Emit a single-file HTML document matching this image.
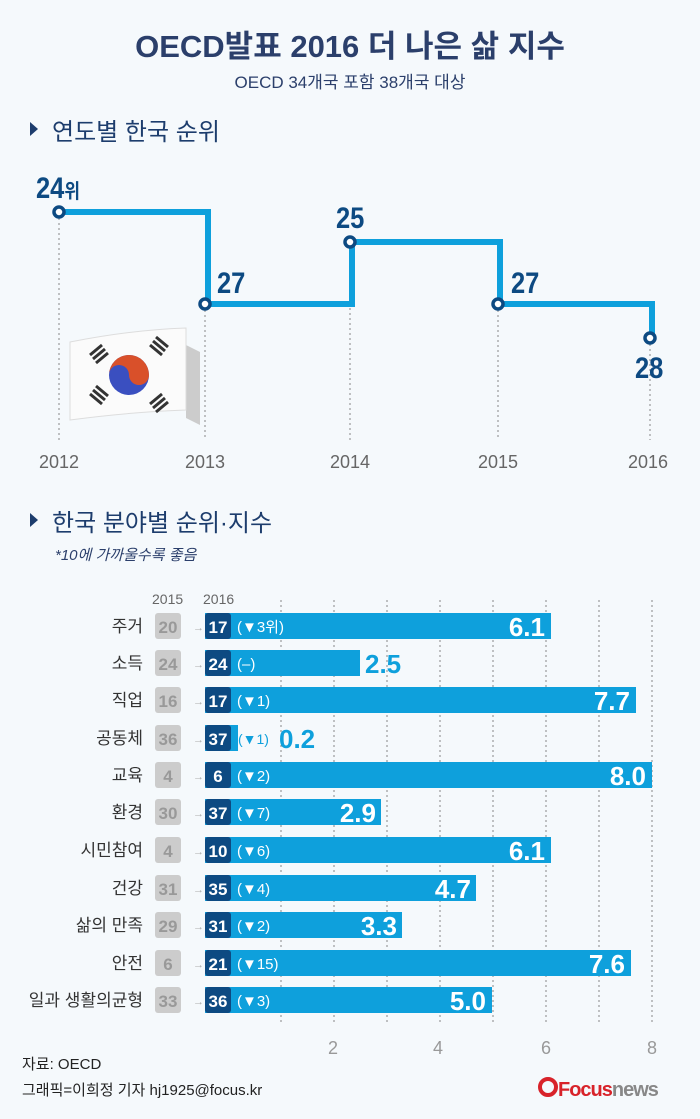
<!DOCTYPE html>
<html><head><meta charset="utf-8"><style>
body{margin:0;background:#f5f9fc;}
svg text{font-family:"Liberation Sans","Noto Sans CJK KR",sans-serif;}
</style></head><body>
<svg width="700" height="1114" viewBox="0 0 700 1114" xmlns="http://www.w3.org/2000/svg">
<rect width="700" height="1114" fill="#f5f9fc"/>
<text x="350" y="57" text-anchor="middle" font-size="31" fill="#2b3f6b" font-weight="bold">OECD발표 2016 더 나은 삶 지수</text>
<text x="350" y="88" text-anchor="middle" font-size="17" fill="#2b3f6b">OECD 34개국 포함 38개국 대상</text>
<polygon points="30,122 38,129 30,136" fill="#1d3d6d"/>
<text x="52" y="140" font-size="24" fill="#1d3d6d">연도별 한국 순위</text>
<g stroke="#888" stroke-width="1" stroke-dasharray="2,3">
<line x1="59" y1="218" x2="59" y2="440"/><line x1="205" y1="310" x2="205" y2="440"/>
<line x1="350" y1="248" x2="350" y2="440"/><line x1="498" y1="310" x2="498" y2="440"/>
<line x1="650" y1="344" x2="650" y2="440"/>
</g>
<polyline points="59,212 208,212 208,304 352,304 352,242 500,242 500,304 652,304 652,338" fill="none" stroke="#0ea0dc" stroke-width="6"/>
<g fill="#fff" stroke="#0d4a82" stroke-width="3.5">
<circle cx="59" cy="212" r="5"/><circle cx="205" cy="304" r="5"/><circle cx="350" cy="242" r="5"/><circle cx="498" cy="304" r="5"/><circle cx="650" cy="338" r="5"/>
</g>
<g fill="#0d4a82" font-weight="bold">
<text x="36" y="198" font-size="30" transform="translate(36 0) scale(0.85 1) translate(-36 0)">24<tspan font-size="20">위</tspan></text>
<text x="217" y="293" font-size="30" transform="translate(217 0) scale(0.85 1) translate(-217 0)">27</text>
<text x="336" y="228" font-size="30" transform="translate(336 0) scale(0.85 1) translate(-336 0)">25</text>
<text x="511" y="293" font-size="30" transform="translate(511 0) scale(0.85 1) translate(-511 0)">27</text>
<text x="635" y="378" font-size="30" transform="translate(635 0) scale(0.85 1) translate(-635 0)">28</text>
</g>
<g fill="#666" font-size="18" text-anchor="middle">
<text x="59" y="468">2012</text><text x="205" y="468">2013</text><text x="350" y="468">2014</text><text x="498" y="468">2015</text><text x="648" y="468">2016</text>
</g>
<path d="M186,345 L200,352 L200,425 L186,418 Z" fill="#ccc"/>
<path d="M70,342 Q130,330 186,328 L186,410 Q130,412 70,420 Z" fill="#fbfbfb" stroke="#ddd"/>
<circle cx="129" cy="375" r="20" fill="#3a4fc0"/>
<path d="M109,375 A20,20 0 0 1 149,375 A10,10 0 0 1 129,375 A10,10 0 0 0 109,375 Z" fill="#d9502a"/>
<g stroke="#333" stroke-width="3"><line x1="90" y1="355" x2="102" y2="345"/><line x1="93" y1="359" x2="105" y2="349"/><line x1="96" y1="363" x2="108" y2="353"/>
<line x1="150" y1="345" x2="162" y2="355"/><line x1="153" y1="341" x2="165" y2="351"/><line x1="156" y1="337" x2="168" y2="347"/>
<line x1="90" y1="394" x2="102" y2="404"/><line x1="93" y1="390" x2="105" y2="400"/><line x1="96" y1="386" x2="108" y2="396"/>
<line x1="150" y1="404" x2="162" y2="394"/><line x1="153" y1="408" x2="165" y2="398"/><line x1="156" y1="412" x2="168" y2="402"/></g>
<polygon points="30,513 38,520 30,527" fill="#1d3d6d"/>
<text x="52" y="531" font-size="24" fill="#1d3d6d">한국 분야별 순위·지수</text>
<text x="55" y="560" font-size="15" fill="#2b3f6b" font-style="italic">*10에 가까울수록 좋음</text>
<text x="152" y="604" font-size="14" fill="#666">2015</text><text x="203" y="604" font-size="14" fill="#666">2016</text>
<g stroke="#888" stroke-dasharray="2,3">
<line x1="281" y1="600" x2="281" y2="1025"/><line x1="334" y1="600" x2="334" y2="1025"/><line x1="387" y1="600" x2="387" y2="1025"/><line x1="440" y1="600" x2="440" y2="1025"/><line x1="493" y1="600" x2="493" y2="1025"/><line x1="546" y1="600" x2="546" y2="1025"/><line x1="599" y1="600" x2="599" y2="1025"/><line x1="652" y1="600" x2="652" y2="1025"/>
</g>
<g fill="#999" font-size="18" text-anchor="middle"><text x="333" y="1054">2</text><text x="438" y="1054">4</text><text x="546" y="1054">6</text><text x="652" y="1054">8</text></g>
<g font-size="17">
<g transform="translate(0,626)"><rect x="205" y="-13" width="346" height="26" fill="#0ea0dc"/><text x="143" y="6" text-anchor="end" fill="#333">주거</text><rect x="155" y="-13" width="26" height="26" rx="3" fill="#ccc"/><text x="168" y="7" text-anchor="middle" fill="#999" font-weight="bold">20</text><text x="193" y="5" font-size="11" fill="#aaa">→</text><rect x="205" y="-13" width="26" height="26" rx="3" fill="#0d4a82"/><text x="218" y="7" text-anchor="middle" fill="#fff" font-weight="bold">17</text><text x="237" y="6" font-size="15" fill="#fff">(▼3위)</text><text x="545" y="10" text-anchor="end" fill="#fff" font-size="26" font-weight="bold">6.1</text></g>
<g transform="translate(0,663)"><rect x="205" y="-13" width="155" height="26" fill="#0ea0dc"/><text x="143" y="6" text-anchor="end" fill="#333">소득</text><rect x="155" y="-13" width="26" height="26" rx="3" fill="#ccc"/><text x="168" y="7" text-anchor="middle" fill="#999" font-weight="bold">24</text><text x="193" y="5" font-size="11" fill="#aaa">→</text><rect x="205" y="-13" width="26" height="26" rx="3" fill="#0d4a82"/><text x="218" y="7" text-anchor="middle" fill="#fff" font-weight="bold">24</text><text x="237" y="6" font-size="15" fill="#fff">(–)</text><text x="365" y="10" fill="#0ea0dc" font-size="26" font-weight="bold">2.5</text></g>
<g transform="translate(0,700)"><rect x="205" y="-13" width="431" height="26" fill="#0ea0dc"/><text x="143" y="6" text-anchor="end" fill="#333">직업</text><rect x="155" y="-13" width="26" height="26" rx="3" fill="#ccc"/><text x="168" y="7" text-anchor="middle" fill="#999" font-weight="bold">16</text><text x="193" y="5" font-size="11" fill="#aaa">→</text><rect x="205" y="-13" width="26" height="26" rx="3" fill="#0d4a82"/><text x="218" y="7" text-anchor="middle" fill="#fff" font-weight="bold">17</text><text x="237" y="6" font-size="15" fill="#fff">(▼1)</text><text x="630" y="10" text-anchor="end" fill="#fff" font-size="26" font-weight="bold">7.7</text></g>
<g transform="translate(0,738)"><rect x="205" y="-13" width="33" height="26" fill="#0ea0dc"/><text x="143" y="6" text-anchor="end" fill="#333">공동체</text><rect x="155" y="-13" width="26" height="26" rx="3" fill="#ccc"/><text x="168" y="7" text-anchor="middle" fill="#999" font-weight="bold">36</text><text x="193" y="5" font-size="11" fill="#aaa">→</text><rect x="205" y="-13" width="26" height="26" rx="3" fill="#0d4a82"/><text x="218" y="7" text-anchor="middle" fill="#fff" font-weight="bold">37</text><text x="238" y="6" font-size="14" fill="#0ea0dc">(▼1)</text><text x="279" y="10" fill="#0ea0dc" font-size="26" font-weight="bold">0.2</text></g>
<g transform="translate(0,775)"><rect x="205" y="-13" width="447" height="26" fill="#0ea0dc"/><text x="143" y="6" text-anchor="end" fill="#333">교육</text><rect x="155" y="-13" width="26" height="26" rx="3" fill="#ccc"/><text x="168" y="7" text-anchor="middle" fill="#999" font-weight="bold">4</text><text x="193" y="5" font-size="11" fill="#aaa">→</text><rect x="205" y="-13" width="26" height="26" rx="3" fill="#0d4a82"/><text x="218" y="7" text-anchor="middle" fill="#fff" font-weight="bold">6</text><text x="237" y="6" font-size="15" fill="#fff">(▼2)</text><text x="646" y="10" text-anchor="end" fill="#fff" font-size="26" font-weight="bold">8.0</text></g>
<g transform="translate(0,812)"><rect x="205" y="-13" width="176" height="26" fill="#0ea0dc"/><text x="143" y="6" text-anchor="end" fill="#333">환경</text><rect x="155" y="-13" width="26" height="26" rx="3" fill="#ccc"/><text x="168" y="7" text-anchor="middle" fill="#999" font-weight="bold">30</text><text x="193" y="5" font-size="11" fill="#aaa">→</text><rect x="205" y="-13" width="26" height="26" rx="3" fill="#0d4a82"/><text x="218" y="7" text-anchor="middle" fill="#fff" font-weight="bold">37</text><text x="237" y="6" font-size="15" fill="#fff">(▼7)</text><text x="376" y="10" text-anchor="end" fill="#fff" font-size="26" font-weight="bold">2.9</text></g>
<g transform="translate(0,850)"><rect x="205" y="-13" width="346" height="26" fill="#0ea0dc"/><text x="143" y="6" text-anchor="end" fill="#333">시민참여</text><rect x="155" y="-13" width="26" height="26" rx="3" fill="#ccc"/><text x="168" y="7" text-anchor="middle" fill="#999" font-weight="bold">4</text><text x="193" y="5" font-size="11" fill="#aaa">→</text><rect x="205" y="-13" width="26" height="26" rx="3" fill="#0d4a82"/><text x="218" y="7" text-anchor="middle" fill="#fff" font-weight="bold">10</text><text x="237" y="6" font-size="15" fill="#fff">(▼6)</text><text x="545" y="10" text-anchor="end" fill="#fff" font-size="26" font-weight="bold">6.1</text></g>
<g transform="translate(0,888)"><rect x="205" y="-13" width="271" height="26" fill="#0ea0dc"/><text x="143" y="6" text-anchor="end" fill="#333">건강</text><rect x="155" y="-13" width="26" height="26" rx="3" fill="#ccc"/><text x="168" y="7" text-anchor="middle" fill="#999" font-weight="bold">31</text><text x="193" y="5" font-size="11" fill="#aaa">→</text><rect x="205" y="-13" width="26" height="26" rx="3" fill="#0d4a82"/><text x="218" y="7" text-anchor="middle" fill="#fff" font-weight="bold">35</text><text x="237" y="6" font-size="15" fill="#fff">(▼4)</text><text x="471" y="10" text-anchor="end" fill="#fff" font-size="26" font-weight="bold">4.7</text></g>
<g transform="translate(0,925)"><rect x="205" y="-13" width="197" height="26" fill="#0ea0dc"/><text x="143" y="6" text-anchor="end" fill="#333">삶의 만족</text><rect x="155" y="-13" width="26" height="26" rx="3" fill="#ccc"/><text x="168" y="7" text-anchor="middle" fill="#999" font-weight="bold">29</text><text x="193" y="5" font-size="11" fill="#aaa">→</text><rect x="205" y="-13" width="26" height="26" rx="3" fill="#0d4a82"/><text x="218" y="7" text-anchor="middle" fill="#fff" font-weight="bold">31</text><text x="237" y="6" font-size="15" fill="#fff">(▼2)</text><text x="397" y="10" text-anchor="end" fill="#fff" font-size="26" font-weight="bold">3.3</text></g>
<g transform="translate(0,963)"><rect x="205" y="-13" width="426" height="26" fill="#0ea0dc"/><text x="143" y="6" text-anchor="end" fill="#333">안전</text><rect x="155" y="-13" width="26" height="26" rx="3" fill="#ccc"/><text x="168" y="7" text-anchor="middle" fill="#999" font-weight="bold">6</text><text x="193" y="5" font-size="11" fill="#aaa">→</text><rect x="205" y="-13" width="26" height="26" rx="3" fill="#0d4a82"/><text x="218" y="7" text-anchor="middle" fill="#fff" font-weight="bold">21</text><text x="237" y="6" font-size="15" fill="#fff">(▼15)</text><text x="625" y="10" text-anchor="end" fill="#fff" font-size="26" font-weight="bold">7.6</text></g>
<g transform="translate(0,1000)"><rect x="205" y="-13" width="287" height="26" fill="#0ea0dc"/><text x="143" y="6" text-anchor="end" fill="#333">일과 생활의균형</text><rect x="155" y="-13" width="26" height="26" rx="3" fill="#ccc"/><text x="168" y="7" text-anchor="middle" fill="#999" font-weight="bold">33</text><text x="193" y="5" font-size="11" fill="#aaa">→</text><rect x="205" y="-13" width="26" height="26" rx="3" fill="#0d4a82"/><text x="218" y="7" text-anchor="middle" fill="#fff" font-weight="bold">36</text><text x="237" y="6" font-size="15" fill="#fff">(▼3)</text><text x="486" y="10" text-anchor="end" fill="#fff" font-size="26" font-weight="bold">5.0</text></g>
</g>
<text x="22" y="1069" font-size="15" fill="#222">자료: OECD</text>
<text x="22" y="1095" font-size="15" fill="#222">그래픽=이희정 기자 hj1925@focus.kr</text>
<circle cx="548" cy="1087" r="8" fill="none" stroke="#d8232a" stroke-width="4"/>
<text x="558" y="1096" font-size="20" font-weight="bold" fill="#d8232a" letter-spacing="-1">Focus<tspan fill="#888">news</tspan></text>
</svg>
</body></html>
